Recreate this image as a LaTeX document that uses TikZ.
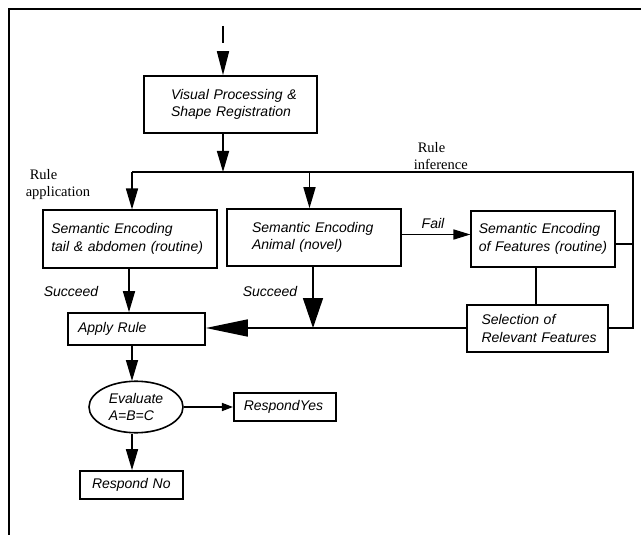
\documentclass[tikz,border=0pt]{standalone}
\usepackage{fontspec}
\setmainfont{Liberation Sans}
\newfontfamily\serifx{Liberation Serif}
\usetikzlibrary{arrows.meta,shapes.geometric}
\newcommand\ind[1]{\hspace*{#1pt}}
\begin{document}
\begin{tikzpicture}[x=1pt,y=-1pt,
  line width=1.6pt,
  every node/.style={font=\fontsize{14}{17.5}\selectfont\itshape},
  box/.style={draw,rectangle,align=left,inner ysep=0pt,inner xsep=0pt},
  lbl/.style={inner sep=0pt},
  slbl/.style={inner sep=0pt,align=left,font=\fontsize{14.5}{17.5}\selectfont\serifx},
  arr/.style={-{Triangle[length=21pt,width=12pt]}},
  arrs/.style={-{Triangle[length=17pt,width=10pt]}},
  arrsm/.style={-{Triangle[length=11pt,width=8pt]}},
  arrbig/.style={-{Triangle[length=30pt,width=20pt]}},
  arrwide/.style={-{Triangle[length=42pt,width=17pt]}}
]
\useasboundingbox (0,0) rectangle (641,535);
\fill[white] (0,0) rectangle (641,535);
\draw[line width=2.6pt] (9,535) -- (9,9) -- (641,9);

% nodes
\node[box, minimum height=57pt, text width=173pt] (vp) at (230.5,104.5) {\ind{27}Visual Processing \&\\\ind{27}Shape Registration};
\node[box, minimum height=57.5pt, text width=174.5pt] (b1) at (130,239) {\ind{8.5}Semantic Encoding\\\ind{8.5}tail \&\ abdomen (routine)};
\node[box, minimum height=57pt, text width=174pt] (b2) at (314,237.5) {\ind{25}Semantic Encoding\\\ind{25}Animal (novel)};
\node[box, minimum height=56.5pt, text width=143.5pt] (b3) at (543,239) {\ind{7.5}Semantic Encoding\\\ind{7.5}of Features (routine)};
\node[box, minimum height=47pt, text width=141pt] (b4) at (537.5,328.5) {\ind{14.5}Selection of\\\ind{14.5}Relevant Features};
\node[box, minimum height=32pt, text width=137pt] (ap) at (136.5,329) {\ind{10}Apply Rule};
\node[draw, ellipse, minimum width=94pt, minimum height=51.5pt, inner sep=0pt, align=left] (ev) at (136,407) {Evaluate\\A=B=C};
\node[box, minimum height=28.5pt, text width=102.5pt] (yes) at (285,407) {\ind{10}RespondYes};
\node[box, minimum height=28pt, text width=103pt] (no) at (131.5,485) {\ind{12}Respond No};

% labels
\node[lbl] (s1) at (71,291) {Succeed};
\node[lbl] (s2) at (270,291) {Succeed};
\node[lbl] (fail) at (433,223.5) {Fail};
\node[slbl, anchor=west] (rapp) at (25,184.5) {\ind{4}Rule\\application};
\node[slbl, anchor=west] (rinf) at (413,156) {\ind{4}Rule\\inference};

% coordinates
\coordinate (top) at (223,26);
\coordinate (topm) at (223,43);
\coordinate (toph) at (223,51);
\coordinate (br) at (223,172);
\coordinate (bl) at (132,172);
\coordinate (bm) at (309.5,172);
\coordinate (brr) at (633,172);
\coordinate (rb) at (633,328);
\coordinate (b34) at (536,267);
\coordinate (b2s) at (313,266);
\coordinate (j2) at (313,328);
\coordinate (b1s) at (129,268);
\coordinate (ae) at (132,381);

% connectors
\draw (top) -- (topm);
\draw[-{Triangle[length=24pt,width=12pt]}] (toph) -- (toph |- vp.north);
\draw[arr] (vp.south -| br) -- (br);
\draw (bl) -- (brr) -- (rb) -- (rb -| b4.east);
\draw[arr] (bl) -- (bl |- b1.north);
\draw[arr] (bm) -- (bm |- b2.north);
\draw ([yshift=-5pt]b3.east) -- ([yshift=-5pt]b3.east -| brr);
\draw[arrs] ([yshift=3pt]b2.east) -- ([yshift=3pt]b2.east -| b3.west);
\draw (b34) -- (b34 |- b4.north);
\draw[arrwide] (rb -| b4.west) -- (rb -| ap.east);
\draw[arrbig] (b2s) -- (j2);
\draw[arr] (b1s) -- (b1s |- ap.north);
\draw[arr] (ap.south -| ae) -- (ae);
\draw[arrsm] (ev.east) -- (yes.west);
\draw[arr] (ev.south -| ae) -- (no.north -| ae);
\end{tikzpicture}
\end{document}
